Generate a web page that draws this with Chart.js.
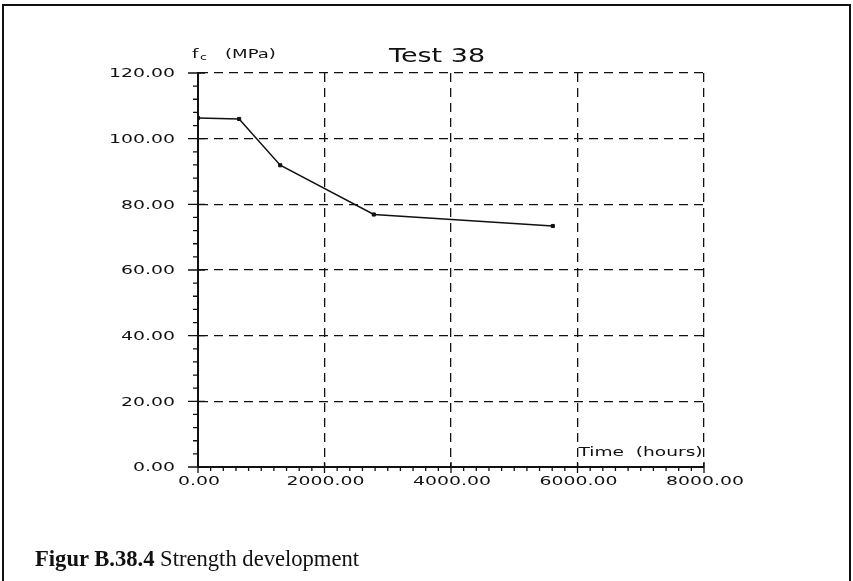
<!DOCTYPE html>
<html>
<head>
<meta charset="utf-8">
<script src="https://cdn.jsdelivr.net/npm/chart.js@4/dist/chart.umd.min.js"></script>
<style>
  body { margin: 0; background: #fff; }
  #wrap { position: relative; width: 853px; height: 581px; overflow: hidden; }
  #frame { position: absolute; left: 2px; top: 4px; width: 845px; height: 600px;
           border: 2px solid #111; border-bottom: none; }
  #caption { position: absolute; left: 35px; top: 546px; font-family: "Liberation Serif", serif;
             font-size: 22.6px; color: #111; white-space: nowrap; }
</style>
</head>
<body>
<div id="wrap">
  <div id="frame"></div>
  <canvas id="myChart"></canvas>
  <div id="caption"><b>Figur B.38.4</b> Strength development</div>
</div>
<script>
// values
const hours = [0, 650, 1300, 2780, 5610];
const strength = [106.3, 106.0, 91.9, 76.9, 73.4];

const xTicks = [0, 2000, 4000, 6000, 8000];
const yTicks = [0, 20, 40, 60, 80, 100, 120];

const points = hours.map((h, i) => ({ x: h, y: strength[i] }));

// plotter-style wide lettering: normal glyphs stretched sideways
function wideText(ctx, text, x, y, font, sx, align, baseline) {
  ctx.save();
  ctx.font = font;
  ctx.textAlign = align || 'left';
  ctx.textBaseline = baseline || 'alphabetic';
  ctx.translate(x, y);
  ctx.scale(sx, 1);
  ctx.fillText(text, 0, 0);
  ctx.restore();
}

const tickFont = '13px "DejaVu Sans"';

// axis ticks, tick labels and the extra text
const extras = {
  id: 'extras',
  afterDraw(chart) {
    const ctx = chart.ctx;
    const xs = chart.scales.x, ys = chart.scales.y;
    const area = chart.chartArea;
    ctx.save();
    ctx.strokeStyle = '#111';
    ctx.lineWidth = 1.3;
    ctx.beginPath();
    for (let v = 0; v <= 120; v += 4) {
      const py = ys.getPixelForValue(v);
      if (v % 20 === 0) {
        ctx.moveTo(area.left - 10, py); ctx.lineTo(area.left + 7, py);
      } else {
        ctx.moveTo(area.left - 5, py); ctx.lineTo(area.left, py);
      }
    }
    for (let v = 0; v <= 8000; v += 200) {
      const px = xs.getPixelForValue(v);
      if (v % 2000 === 0) {
        ctx.moveTo(px, area.bottom - 5); ctx.lineTo(px, area.bottom + 6);
      } else {
        ctx.moveTo(px, area.bottom); ctx.lineTo(px, area.bottom + 4);
      }
    }
    ctx.stroke();
    ctx.fillStyle = '#111';

    ys.ticks.forEach(t => {
      wideText(ctx, t.value.toFixed(2), area.left - 23, ys.getPixelForValue(t.value) + 1,
        tickFont, 1.45, 'right', 'middle');
    });
    xs.ticks.forEach(t => {
      wideText(ctx, t.value.toFixed(2), xs.getPixelForValue(t.value) + 1, area.bottom + 15,
        tickFont, 1.45, 'center', 'middle');
    });

    wideText(ctx, 'Test 38', area.left + 191, 62, '20px "DejaVu Sans"', 1.35);
    wideText(ctx, 'f', area.left - 6, 58, '13px "DejaVu Sans"', 1.4);
    wideText(ctx, 'c', area.left + 2, 60, '9px "DejaVu Sans"', 1.4);
    wideText(ctx, '(MPa)', area.left + 27, 58, '13px "DejaVu Sans"', 1.39);
    wideText(ctx, 'Time  (hours)', xs.getPixelForValue(6000) + 1, 456, '13px "DejaVu Sans"', 1.43);
    ctx.restore();
  }
};

const ctx = document.getElementById('myChart').getContext('2d');
const myChart = new Chart(ctx, {
  type: 'line',
  data: {
    datasets: [{
      data: points,
      borderColor: '#111',
      borderWidth: 1.5,
      tension: 0,
      pointStyle: 'rect',
      pointRadius: 2.2,
      pointBackgroundColor: '#111',
      pointBorderColor: '#111',
      pointBorderWidth: 1
    }]
  },
  options: {
    responsive: true,
    maintainAspectRatio: false,
    animation: false,
    layout: { padding: { left: 0, top: 73, right: 149, bottom: 0 } },
    plugins: { legend: { display: false }, title: { display: false }, tooltip: { enabled: false } },
    scales: {
      x: {
        type: 'linear',
        min: 0, max: 8000,
        afterFit(scale) { scale.height = 114; },
        afterBuildTicks(scale) { scale.ticks = xTicks.map(v => ({ value: v })); },
        ticks: { display: false },
        grid: { color: '#111', lineWidth: 1.3, drawTicks: false },
        border: { color: '#111', width: 2, dash: [9, 6] }
      },
      y: {
        min: 0, max: 120,
        afterFit(scale) { scale.width = 198; },
        afterBuildTicks(scale) { scale.ticks = yTicks.map(v => ({ value: v })); },
        ticks: { display: false },
        grid: { color: '#111', lineWidth: 1.3, drawTicks: false },
        border: { color: '#111', width: 2, dash: [9, 6] }
      }
    }
  },
  plugins: [extras]
});
</script>
</body>
</html>
